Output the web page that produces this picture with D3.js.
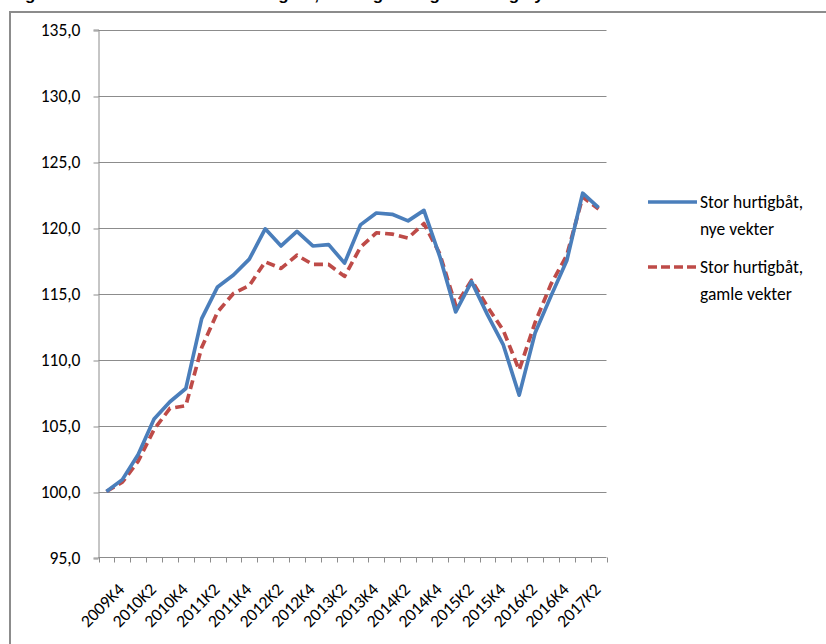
<!DOCTYPE html>
<html>
<head>
<meta charset="utf-8">
<script src="https://cdn.jsdelivr.net/npm/d3@7"></script>
<style>
  html, body { margin: 0; padding: 0; background: #fff; }
  svg { display: block; }
  text { font-family: Carlito, "Liberation Sans Narrow", "DejaVu Sans Condensed", "Open Sans", sans-serif; fill: #000; }
</style>
</head>
<body>
<svg id="chart" width="826" height="644"></svg>
<script>
// Quarterly price index, large high-speed craft (2009K4 = 100)
const quarters = [
  "2009K4",
  "2010K1", "2010K2", "2010K3", "2010K4",
  "2011K1", "2011K2", "2011K3", "2011K4",
  "2012K1", "2012K2", "2012K3", "2012K4",
  "2013K1", "2013K2", "2013K3", "2013K4",
  "2014K1", "2014K2", "2014K3", "2014K4",
  "2015K1", "2015K2", "2015K3", "2015K4",
  "2016K1", "2016K2", "2016K3", "2016K4",
  "2017K1", "2017K2", "2017K3"
];

const nyeVekter = [
  100.0, 100.9, 102.8, 105.5, 106.8, 107.8, 113.1, 115.5,
  116.4, 117.6, 119.9, 118.6, 119.7, 118.6, 118.7, 117.3,
  120.2, 121.1, 121.0, 120.5, 121.3, 117.8, 113.6, 115.9,
  113.4, 111.1, 107.3, 112.0, 114.8, 117.5, 122.6, 121.5
];

const gamleVekter = [
  100.0, 100.7, 102.3, 104.7, 106.3, 106.5, 110.9, 113.6,
  115.0, 115.6, 117.4, 116.9, 117.9, 117.2, 117.2, 116.3,
  118.5, 119.6, 119.5, 119.2, 120.3, 118.0, 114.1, 116.0,
  114.0, 112.2, 109.2, 112.8, 115.7, 117.9, 122.3, 121.4
];

const seriesNames = ["Stor hurtigbåt, nye vekter", "Stor hurtigbåt, gamle vekter"];
const yTicks = [95, 100, 105, 110, 115, 120, 125, 130, 135];
const xLabelEvery = 2;

const titleText = "Figur 3.4 Prisindeks for stor hurtigbåt, vekting etter gammel og ny vektstruktur";

const series = [
  { name: seriesNames[0], values: nyeVekter, color: "#4a7ebb", dash: null },
  { name: seriesNames[1], values: gamleVekter, color: "#be4b48", dash: "9,5" }
];

const svg = d3.select("#chart");

// Title (runs above the top edge of the page)
svg.append("text")
  .attr("x", 10)
  .attr("y", 0)
  .attr("font-size", 17)
  .attr("font-weight", "bold")
  .style("font-family", "'Liberation Sans', Arial, sans-serif")
  .text(titleText);

// Chart frame
svg.append("rect")
  .attr("x", 10).attr("y", 12)
  .attr("width", 840).attr("height", 660)
  .attr("fill", "#fff")
  .attr("stroke", "#8c8c8c")
  .attr("stroke-width", 2);

const plot = { left: 98.5, right: 606.5, top: 29.5, bottom: 557.5 };

const x = d3.scaleBand()
  .domain(quarters)
  .range([plot.left, plot.right])
  .paddingInner(0)
  .paddingOuter(0);

const y = d3.scaleLinear()
  .domain([95, 135])
  .range([plot.bottom, plot.top]);

const gridColor = "#8c8c8c";
const labelSize = 17.5;

// Horizontal gridlines
svg.append("g")
  .selectAll("line")
  .data(yTicks.filter(d => d !== 95))
  .join("line")
  .attr("x1", plot.left).attr("x2", plot.right)
  .attr("y1", d => Math.round(y(d)) + 0.5)
  .attr("y2", d => Math.round(y(d)) + 0.5)
  .attr("stroke", gridColor)
  .attr("stroke-width", 1);

// Y axis
const yAxis = d3.axisLeft(y)
  .tickValues(yTicks)
  .tickSize(5)
  .tickPadding(13)
  .tickFormat(d => d.toFixed(1).replace(".", ","));

const gy = svg.append("g")
  .attr("transform", `translate(${plot.left},0)`)
  .call(yAxis);
gy.select(".domain").attr("stroke", gridColor);
gy.selectAll(".tick line").attr("stroke", gridColor)
  .attr("transform", d => `translate(0,${Math.round(y(d)) + 0.5 - y(d)})`);
gy.selectAll(".tick text").attr("font-size", labelSize).style("font-family", null);

// X axis: base line, tick marks on category boundaries, rotated labels
const gx = svg.append("g");
gx.append("line")
  .attr("x1", plot.left).attr("x2", plot.right)
  .attr("y1", plot.bottom).attr("y2", plot.bottom)
  .attr("stroke", gridColor);

const boundaries = quarters.map(q => x(q)).concat([x.range()[1]]);
gx.selectAll("line.tk")
  .data(boundaries)
  .join("line")
  .attr("class", "tk")
  .attr("x1", d => Math.round(d) + 0.5).attr("x2", d => Math.round(d) + 0.5)
  .attr("y1", plot.bottom).attr("y2", plot.bottom + 5)
  .attr("stroke", gridColor);

const center = q => x(q) + x.bandwidth() / 2;

gx.selectAll("text")
  .data(quarters.filter((q, i) => i % xLabelEvery === 0))
  .join("text")
  .attr("text-anchor", "end")
  .attr("font-size", labelSize)
  .attr("transform", q => `translate(${center(q) + 19},${plot.bottom + 33}) rotate(-45)`)
  .text(q => q);

// Series lines
const line = d3.line()
  .x((d, i) => center(quarters[i]))
  .y(d => y(d));

const gLines = svg.append("g");
series.slice().reverse().forEach(s => {
  gLines.append("path")
    .datum(s.values)
    .attr("d", line)
    .attr("fill", "none")
    .attr("stroke", s.color)
    .attr("stroke-width", 3.7)
    .attr("stroke-linejoin", "round")
    .attr("stroke-dasharray", s.dash);
});

// Legend
const legend = svg.append("g");
const legendY = [202, 267];
series.forEach((s, i) => {
  const g = legend.append("g").attr("transform", `translate(648,${legendY[i]})`);
  g.append("line")
    .attr("x1", 0).attr("x2", 49)
    .attr("y1", 0).attr("y2", 0)
    .attr("stroke", s.color)
    .attr("stroke-width", 3.7)
    .attr("stroke-dasharray", s.dash ? "9,4" : null);
  const parts = s.name.split(", ");
  const lines = [parts[0] + ",", parts[1]];
  lines.forEach((t, j) => {
    g.append("text")
      .attr("x", 52)
      .attr("y", j * 26.5)
      .attr("dy", "0.35em")
      .attr("font-size", 17.5)
      .text(t);
  });
});
</script>
</body>
</html>
